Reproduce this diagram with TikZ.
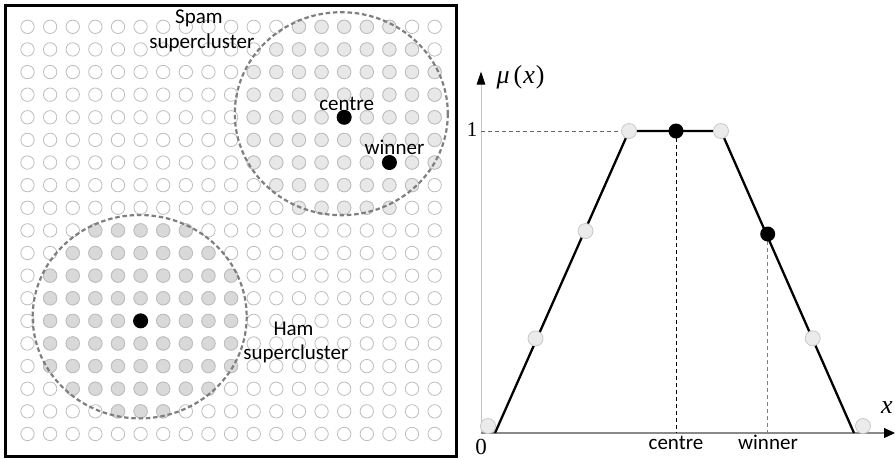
\documentclass[tikz,border=0pt]{standalone}
\usepackage{fontspec}
\setmainfont{Carlito}
\newfontfamily\tnr{Liberation Serif}
\usetikzlibrary{arrows.meta}
\definecolor{gridline}{HTML}{BDBDBD}
\definecolor{spamfill}{HTML}{E8E8E8}
\definecolor{hamfill}{HTML}{D9D9D9}
\definecolor{dashgray}{HTML}{7F7F7F}
\definecolor{ptfill}{HTML}{EBEBEB}
\definecolor{ptline}{HTML}{C8C8C8}
\definecolor{yaxis}{HTML}{C4C4C4}
\definecolor{xaxis}{HTML}{8A8A8A}
\begin{document}
\begin{tikzpicture}[x=1pt,y=-1pt,
  gridc/.style={draw=gridline, line width=0.8pt, fill=white},
  spamc/.style={draw=gridline, line width=0.8pt, fill=spamfill},
  hamc/.style={draw=gridline, line width=0.8pt, fill=hamfill},
  cluster/.style={draw=dashgray, line width=2.2pt, dash pattern=on 4.5pt off 2.8pt},
  blackdot/.style={circle, fill=black, inner sep=0pt, minimum size=15pt},
  lightdot/.style={circle, draw=ptline, line width=0.8pt, fill=ptfill, inner sep=0pt, minimum size=15pt},
  lbl/.style={font=\fontsize{21}{25}\selectfont, inner sep=0pt, anchor=base},
  serif/.style={font=\tnr\fontsize{21}{25}\selectfont, inner sep=0pt},
  curve/.style={line width=2.3pt, line join=round}]
\useasboundingbox (0,0) rectangle (895,459);
% ---------- left panel: grid ----------
\foreach \c in {0,...,18}{
  \foreach \r in {0,...,18}{
    \draw[gridc] ({27.5+22.62*\c},{26.8+22.62*\r}) circle[radius=6.7];
  }
}
\foreach \r/\lo/\hi in {0/12/16,1/11/17,2/10/18,3/10/18,4/10/18,5/10/18,6/10/18,7/11/17,8/12/16}{
  \foreach \c in {\lo,...,\hi}{
    \draw[spamc] ({27.5+22.62*\c},{26.8+22.62*\r}) circle[radius=6.7];
  }
}
\foreach \r/\lo/\hi in {9/3/7,10/2/8,11/1/9,12/1/9,13/1/9,14/1/9,15/1/9,16/2/8,17/4/6}{
  \foreach \c in {\lo,...,\hi}{
    \draw[hamc] ({27.5+22.62*\c},{26.8+22.62*\r}) circle[radius=6.7];
  }
}
\draw[cluster] (341.3,113.7) ellipse[x radius=106.5, y radius=101.5];
\draw[cluster] (139.7,316.7) ellipse[x radius=107, y radius=101.7];
\node[blackdot] (spamcentre) at ({27.5+22.62*14},{26.8+22.62*4}) {};
\node[blackdot] (spamwinner) at ({27.5+22.62*16},{26.8+22.62*6}) {};
\node[blackdot] (hamcentre) at ({27.5+22.62*5},{26.8+22.62*13}) {};
\node[lbl] (spam1) at (199,23.3) {Spam};
\node[lbl] (spam2) at (202,48.3) {supercluster};
\node[lbl] (lcentre) at (346.6,110) {centre};
\node[lbl] (lwinner) at (394.5,154.3) {winner};
\node[lbl] (ham1) at (293.5,335) {Ham};
\node[lbl] (ham2) at (296,359.5) {supercluster};
\draw[line width=3.3pt] (5.7,5.7) rectangle (456.7,456.5);
% ---------- right panel ----------
\coordinate (o) at (481,433);
\coordinate (ytop) at (481,71.5);
\coordinate (xend) at (895,433);
\coordinate (yone) at (481,131);
\coordinate (f1) at (495,433);
\coordinate (t1) at (629,131);
\coordinate (t2) at (721,131);
\coordinate (f2) at (854,433);
\coordinate (cfoot) at (676,433);
\coordinate (wfoot) at (767.7,433);
\draw[yaxis, line width=0.8pt, -{Triangle[length=13pt,width=8.5pt,color=black]}] (o) -- (ytop);
\draw[xaxis, line width=1.2pt, -{Triangle[length=11pt,width=10pt,color=black]}] (o) -- (xend);
\draw[gray!80!black, line width=0.7pt, dash pattern=on 4pt off 3pt] (yone) -- (t1);
\draw[black, line width=0.7pt, dash pattern=on 4pt off 3pt] (676,131) -- (cfoot);
\draw[gray, line width=0.7pt, dash pattern=on 4pt off 3pt] (767.7,234) -- (wfoot);
\draw[curve] (f1) -- (t1) -- (t2) -- (f2);
\node[lightdot] (p1) at (488,426) {};
\node[lightdot] (p2) at (535.5,338.5) {};
\node[lightdot] (p3) at (585.5,231) {};
\node[lightdot] (p4) at (t1) {};
\node[lightdot] (p5) at (t2) {};
\node[lightdot] (p6) at (812.7,338.3) {};
\node[lightdot] (p7) at (863,426) {};
\node[blackdot] (rcentre) at (676,131) {};
\node[blackdot] (rwinner) at (767.7,234) {};
\node[serif, font=\tnr\fontsize{26}{30}\selectfont] (mu) at (520.5,77) {\itshape μ\hspace{4pt}\upshape(\hspace{1pt}\itshape x\upshape\hspace{1pt})};
\node[serif] (one) at (472,130) {1};
\node[serif, font=\tnr\fontsize{23}{27}\selectfont] (zero) at (481,446.5) {0};
\node[serif, font=\tnr\fontsize{26}{30}\selectfont] (xl) at (887,408) {\itshape x};
\node[lbl] (rcentrel) at (676,449.5) {centre};
\node[lbl] (rwinnerl) at (768,449.5) {winner};
\end{tikzpicture}
\end{document}
